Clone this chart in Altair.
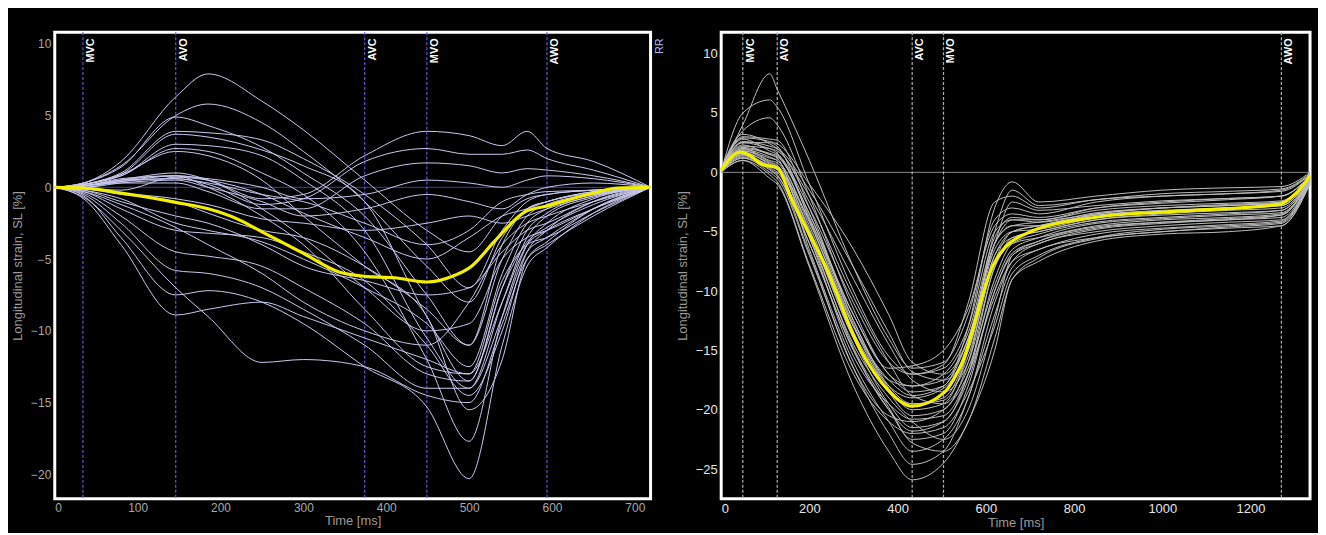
import altair as alt
import pandas as pd

# ---------------- Left panel data ----------------
T_L = [0, 35, 80, 146, 185, 250, 300, 374, 449, 500, 540, 570, 594, 650, 719]
L_CURVES = [
    [0, 0.3, 1.8, 6.3, 7.9, 6.0, 4.0, 0.5, -3.0, -4.5, -2.0, -0.8, -0.5, -0.2, 0],
    [0, 0.3, 1.5, 5.0, 5.8, 4.5, 2.5, -1.0, -5.5, -8.0, -3.5, -1.5, -1.0, -0.4, 0],
    [0, 0.3, 1.4, 4.9, 4.3, 2.8, 1.0, -2.0, -7.5, -11.0, -5.0, -2.0, -1.2, -0.5, 0],
    [0, 0.2, 1.0, 3.9, 3.8, 3.3, 2.0, -0.5, -4.0, -7.0, -3.0, -1.0, -0.5, -0.2, 0],
    [0, 0.2, 0.9, 3.7, 3.5, 2.6, 1.5, -1.0, -9.0, -13.5, -7.0, -3.0, -1.8, -0.6, 0],
    [0, 0.2, 0.8, 3.0, 2.9, 2.2, 0.5, -3.0, -10.5, -14.0, -8.0, -3.5, -2.0, -0.7, 0],
    [0, 0.2, 0.8, 2.7, 2.5, 1.0, -0.5, -4.5, -12.0, -17.7, -9.0, -4.0, -2.5, -0.8, 0],
    [0, 0.1, 0.5, 0.8, 0.5, -0.8, -0.5, 2.2, 3.9, 3.6, 2.9, 3.9, 2.7, 1.8, 0],
    [0, 0.1, 0.4, 0.6, 0.2, -1.2, -0.8, 1.8, 2.7, 2.3, 2.3, 2.6, 2.0, 1.2, 0],
    [0, 0.1, 0.3, 0.3, -0.3, -1.5, -1.5, 0.8, 1.7, 1.5, 1.0, 1.3, 1.2, 0.8, 0],
    [0, 0.1, 0.4, 0.8, 0.6, 0.0, -0.8, -0.5, 0.5, 0.3, 0.0, 0.5, 0.8, 0.6, 0],
    [0, 0.0, 0.3, 0.5, 0.0, -1.0, -2.0, -1.5, -0.5, -1.0, -1.5, -0.5, 0.0, 0.3, 0],
    [0, -0.1, -0.2, 0.7, 0.5, -0.5, -1.8, -3.5, -5.0, -3.5, -2.0, -1.5, -1.0, -0.3, 0],
    [0, -0.1, -0.5, -1.0, -1.8, -3.0, -3.5, -5.5, -8.5, -11.0, -4.0, -1.5, -1.0, -0.3, 0],
    [0, -0.2, -0.8, -2.5, -3.0, -3.8, -5.0, -7.0, -9.5, -12.5, -6.0, -2.5, -1.5, -0.5, 0],
    [0, -0.3, -1.5, -3.0, -3.2, -3.5, -4.5, -6.5, -11.0, -14.5, -10.0, -4.5, -3.0, -1.0, 0],
    [0, -0.4, -2.0, -4.5, -4.8, -5.5, -7.0, -9.5, -13.0, -13.5, -7.0, -3.8, -2.8, -1.2, 0],
    [0, -0.5, -2.5, -5.8, -6.0, -7.0, -8.5, -11.0, -14.0, -14.0, -9.0, -4.5, -3.5, -1.5, 0],
    [0, -0.6, -3.5, -7.5, -7.2, -8.0, -9.5, -12.5, -15.3, -20.3, -11.0, -5.5, -4.2, -1.8, 0],
    [0, -0.8, -4.0, -8.9, -8.5, -8.0, -9.0, -10.5, -12.0, -13.0, -8.0, -4.0, -3.0, -1.5, 0],
    [0, -0.7, -3.0, -7.0, -9.0, -12.2, -12.0, -12.5, -14.5, -15.0, -9.5, -5.0, -4.0, -2.0, 0],
    [0, -0.3, -1.2, -2.8, -4.0, -6.0, -8.0, -10.0, -11.0, -8.0, -4.0, -2.5, -2.0, -1.0, 0],
    [0, -0.2, -1.0, -2.0, -2.5, -4.0, -5.5, -6.5, -7.5, -7.0, -4.5, -3.0, -2.5, -1.0, 0],
    [0, 0.0, 0.5, 1.0, 0.5, -1.5, -3.5, -7.0, -10.0, -9.5, -5.0, -3.5, -3.0, -1.5, 0],
    [0, 0.1, 0.6, 0.8, 0.0, -2.0, -4.0, -8.5, -12.5, -13.0, -6.5, -4.0, -3.5, -1.8, 0],
    [0, 0.1, 0.5, 0.6, 0.3, -0.5, -1.0, -2.5, -4.0, -3.0, -1.0, -0.5, -0.3, -0.2, 0],
    [0, -0.1, -0.4, -0.8, -1.2, -2.2, -2.5, -3.0, -2.5, -2.0, -2.5, -2.0, -1.5, -0.6, 0],
    [0, 0.2, 0.9, 2.5, 2.2, 0.5, -2.0, -5.5, -9.0, -15.5, -12.0, -5.0, -3.8, -1.5, 0],
]
T_L_MEAN = [0, 35, 80, 146, 185, 220, 250, 300, 343, 374, 410, 449, 480, 503, 530, 568, 594, 612, 650, 680, 719]
L_MEAN = [0, -0.05, -0.4, -1.05, -1.5, -2.2, -3.1, -4.6, -5.9, -6.2, -6.3, -6.6, -6.2, -5.5, -3.8, -1.7, -1.3, -1.0, -0.4, -0.05, 0]
EV_L_NAMES = ["MVC", "AVO", "AVC", "MVO", "AWO"]
EV_L_T = [34, 146, 374, 449, 594]
RR_L = 719

# ---------------- Right panel data ----------------
T_R = [0, 49, 110, 127, 200, 300, 380, 433, 504, 560, 620, 660, 720, 850, 1000, 1150, 1270, 1335]
R_CURVES = [
    [0.2, 4.0, 8.3, 7.0, 1.0, -8.0, -14.0, -16.5, -16.0, -12.0, -4.0, -3.0, -3.5, -2.5, -2.0, -1.8, -1.5, -0.2],
    [0.1, 5.0, 6.1, 5.5, -1.0, -10.0, -15.5, -17.0, -16.5, -13.0, -5.0, -4.0, -4.0, -3.0, -2.5, -2.2, -2.0, -0.3],
    [0.3, 3.5, 4.6, 4.0, -2.0, -11.5, -17.0, -18.0, -17.5, -14.0, -6.0, -4.5, -4.5, -3.5, -3.0, -2.8, -2.5, -0.4],
    [0.2, 3.0, 2.8, 2.7, -3.0, -12.5, -18.0, -19.5, -19.0, -15.0, -6.5, -5.0, -4.8, -3.8, -3.3, -3.0, -2.8, -0.5],
    [0.1, 2.5, 2.5, 2.2, -4.0, -13.0, -18.5, -20.5, -20.0, -16.0, -7.0, -5.5, -5.0, -4.0, -3.5, -3.2, -3.0, -0.5],
    [0.3, 2.8, 1.8, 1.5, -3.5, -12.0, -17.0, -18.5, -18.0, -13.0, -3.0, -0.8, -2.5, -2.0, -1.5, -1.3, -1.2, 0.0],
    [0.2, 2.0, 1.0, 0.8, -5.0, -14.0, -19.5, -21.5, -21.0, -17.0, -8.0, -6.0, -5.5, -4.5, -4.0, -3.8, -3.5, -0.6],
    [0.0, 1.5, 0.5, 0.2, -6.0, -15.0, -20.0, -22.5, -22.0, -18.0, -10.0, -7.0, -6.0, -4.8, -4.3, -4.0, -3.8, -0.7],
    [0.1, 1.2, 0.0, -0.5, -7.0, -16.5, -22.0, -24.6, -23.5, -19.0, -12.0, -8.0, -6.5, -5.5, -5.0, -4.6, -4.3, -0.8],
    [0.0, 1.0, -0.5, -1.0, -8.0, -18.0, -23.5, -25.9, -24.5, -21.0, -15.0, -9.0, -7.5, -5.8, -5.2, -5.0, -4.5, -1.0],
    [0.2, 1.8, 1.2, 1.0, -4.5, -13.5, -18.0, -19.0, -18.2, -14.5, -6.0, -4.5, -4.2, -3.5, -3.0, -2.7, -2.5, -0.4],
    [0.3, 2.2, 2.0, 1.6, -3.0, -11.0, -16.0, -17.0, -16.2, -11.0, -2.5, -2.0, -3.0, -2.3, -2.0, -1.8, -1.6, -0.2],
    [0.1, 1.6, 0.8, 0.5, -5.5, -15.5, -19.5, -20.8, -20.5, -17.0, -9.0, -6.0, -5.2, -4.2, -3.8, -3.5, -3.2, -0.5],
    [0.2, 2.0, 1.5, 1.2, -6.5, -16.0, -21.0, -23.5, -22.5, -19.0, -11.0, -7.5, -6.0, -5.0, -4.5, -4.2, -4.0, -0.7],
    [0.2, 1.4, 0.6, 0.3, -4.0, -12.0, -16.5, -16.3, -15.0, -11.5, -4.5, -3.5, -3.8, -3.0, -2.6, -2.3, -2.0, -0.3],
    [0.1, 1.0, -0.2, -0.8, -7.8, -17.0, -21.0, -22.0, -21.5, -18.5, -13.0, -8.5, -7.0, -5.5, -4.8, -4.5, -4.2, -0.8],
    [0.3, 2.5, 2.0, 1.8, -2.0, -9.0, -14.5, -17.5, -18.5, -16.0, -8.0, -5.5, -5.0, -4.0, -3.6, -3.4, -3.2, -0.5],
    [0.2, 1.8, 0.9, 0.6, -4.8, -14.0, -18.5, -19.5, -19.2, -15.5, -7.5, -5.0, -4.5, -3.6, -3.2, -3.0, -2.8, -0.4],
    [0.1, 1.5, 0.4, 0.0, -5.5, -14.5, -19.0, -21.0, -22.5, -20.0, -12.5, -7.0, -5.8, -4.6, -4.2, -4.0, -3.6, -0.6],
    [0.2, 2.3, 1.5, 1.3, -3.5, -12.5, -17.5, -18.0, -17.0, -13.5, -5.5, -3.8, -4.0, -3.2, -2.8, -2.6, -2.4, -0.3],
    [0.3, 3.2, 2.4, 2.0, -2.5, -10.5, -16.0, -18.8, -19.5, -16.5, -9.5, -6.5, -5.5, -4.3, -3.9, -3.6, -3.4, -0.5],
    [0.1, 1.2, 0.2, -0.3, -6.0, -15.0, -20.0, -21.8, -21.0, -17.5, -10.0, -6.8, -5.8, -4.7, -4.2, -3.9, -3.6, -0.6],
    [0.2, 1.9, 1.3, 1.0, -4.2, -13.0, -17.5, -18.8, -18.0, -14.0, -6.0, -2.5, -3.2, -2.8, -2.4, -2.2, -2.0, -0.3],
    [0.2, 2.6, 2.2, 2.0, -1.5, -8.0, -13.5, -16.8, -17.5, -15.0, -7.0, -5.0, -4.5, -3.6, -3.3, -3.0, -2.8, -0.4],
    [0.1, 1.3, 0.3, -0.2, -6.8, -16.5, -20.5, -21.0, -20.0, -17.0, -10.5, -7.5, -6.5, -5.2, -4.7, -4.4, -4.1, -0.7],
    [0.3, 2.9, 2.6, 2.4, -1.0, -6.5, -12.0, -16.0, -17.0, -14.0, -6.0, -4.0, -4.2, -3.4, -3.0, -2.8, -2.6, -0.4],
    [0.2, 2.1, 1.6, 1.4, -3.8, -12.8, -18.2, -20.0, -19.5, -15.0, -5.0, -1.5, -2.8, -2.3, -1.8, -1.6, -1.4, -0.1],
    [0.2, 1.7, 0.7, 0.4, -5.2, -14.8, -19.8, -22.8, -23.5, -21.0, -14.0, -9.0, -7.2, -5.6, -5.0, -4.7, -4.5, -0.9],
]
T_R_MEAN = [0, 44, 70, 90, 127, 160, 235, 318, 380, 433, 504, 543, 617, 644, 689, 846, 1048, 1265, 1302, 1335]
R_MEAN = [0.2, 1.7, 1.3, 0.7, 0.4, -2.3, -7.8, -15.1, -18.4, -19.7, -18.6, -16.3, -7.8, -6.3, -5.2, -3.8, -3.25, -2.7, -1.8, -0.3]
EV_R_NAMES = ["MVC", "AVO", "AVC", "MVO", "AWO"]
EV_R_T = [49, 127, 433, 504, 1270]

FONT = "Liberation Sans"


def long_df(times, curves):
    rows = []
    for i, c in enumerate(curves):
        for t, v in zip(times, c):
            rows.append({"id": i, "t": t, "v": v})
    return pd.DataFrame(rows)


def panel(times, curves, mtimes, mean, ev_names, ev_t, rr, xdom, ydom, xticks, yticks,
          w, h, line_color, ev_color, zero_color, tick_color, rr_color, label_size):
    cdf = long_df(times, curves)
    mdf = pd.DataFrame({"t": mtimes, "v": mean})
    edf = pd.DataFrame({"t": ev_t, "name": ev_names})
    zdf = pd.DataFrame({"v": [0]})

    xs = alt.Scale(domain=xdom, nice=False, zero=False)
    ys = alt.Scale(domain=ydom, nice=False, zero=False)
    xaxis = alt.Axis(values=xticks, title="Time [ms]", labelColor=tick_color,
                     labelFontSize=label_size, titleColor="#9a9a9a", titleFontSize=13,
                     labelPadding=4, titlePadding=1, format="d")
    yaxis = alt.Axis(values=yticks, title="Longitudinal strain, SL [%]", labelColor=tick_color,
                     labelFontSize=label_size, titleColor="#9a9a9a", titleFontSize=13,
                     labelPadding=4, titlePadding=6, format="d")
    X = alt.X("t:Q", scale=xs, axis=xaxis)
    Y = alt.Y("v:Q", scale=ys, axis=yaxis)

    zero = alt.Chart(zdf).mark_rule(color=zero_color, strokeWidth=1).encode(y=Y)
    evl = alt.Chart(edf).mark_rule(color=ev_color, strokeWidth=1.2, strokeDash=[3, 2]).encode(x=X)
    lines = alt.Chart(cdf).mark_line(color=line_color, strokeWidth=1, interpolate="monotone").encode(
        x=X, y=Y, detail="id:N")
    meanl = alt.Chart(mdf).mark_line(color="#f2f000", strokeWidth=3.2, interpolate="monotone").encode(
        x=X, y=Y)
    evt = alt.Chart(edf).mark_text(angle=270, align="right", baseline="top", dy=2,
                                   color="white", fontSize=11, fontWeight="bold", font=FONT).encode(
        x=X, y=alt.value(6), text="name:N")
    layers = [zero, evl, lines, meanl, evt]
    if rr is not None:
        rdf = pd.DataFrame({"t": [rr], "name": ["RR"]})
        rrt = alt.Chart(rdf).mark_text(angle=270, align="right", baseline="top", dy=3,
                                       color=rr_color, fontSize=11, font=FONT).encode(
            x=X, y=alt.value(6), text="name:N")
        layers.append(rrt)
    return alt.layer(*layers).properties(width=w, height=h)


left = panel(T_L, L_CURVES, T_L_MEAN, L_MEAN, EV_L_NAMES, EV_L_T, RR_L,
             [0, 719], [-21.7, 10.8], [0, 100, 200, 300, 400, 500, 600, 700],
             [-20, -15, -10, -5, 0, 5, 10], 599, 469,
             "#c9c9f0", "#5a5ad0", "#4040a8", "#a8a8a8", "#b8b8e8", 12)
right = panel(T_R, R_CURVES, T_R_MEAN, R_MEAN, EV_R_NAMES, EV_R_T, None,
              [0, 1335], [-27.5, 11.8], [0, 200, 400, 600, 800, 1000, 1200],
              [-25, -20, -15, -10, -5, 0, 5, 10], 592, 469,
              "#bdbdbd", "#b0b0b0", "#8a8a8a", "#e6e6e6", "#c0c0c0", 13)

chart = alt.hconcat(left, right, spacing=71, bounds="flush").properties(
    padding={"left": 2, "top": 20, "right": 0, "bottom": 0}
).configure(background="black", font=FONT).configure_view(
    stroke="white", strokeWidth=3
).configure_axis(
    domain=False, ticks=False, grid=False, labelFont=FONT, titleFont=FONT, titleFontWeight="normal"
)

chart.save("out.html", embed_options={"renderer": "svg", "actions": False})
